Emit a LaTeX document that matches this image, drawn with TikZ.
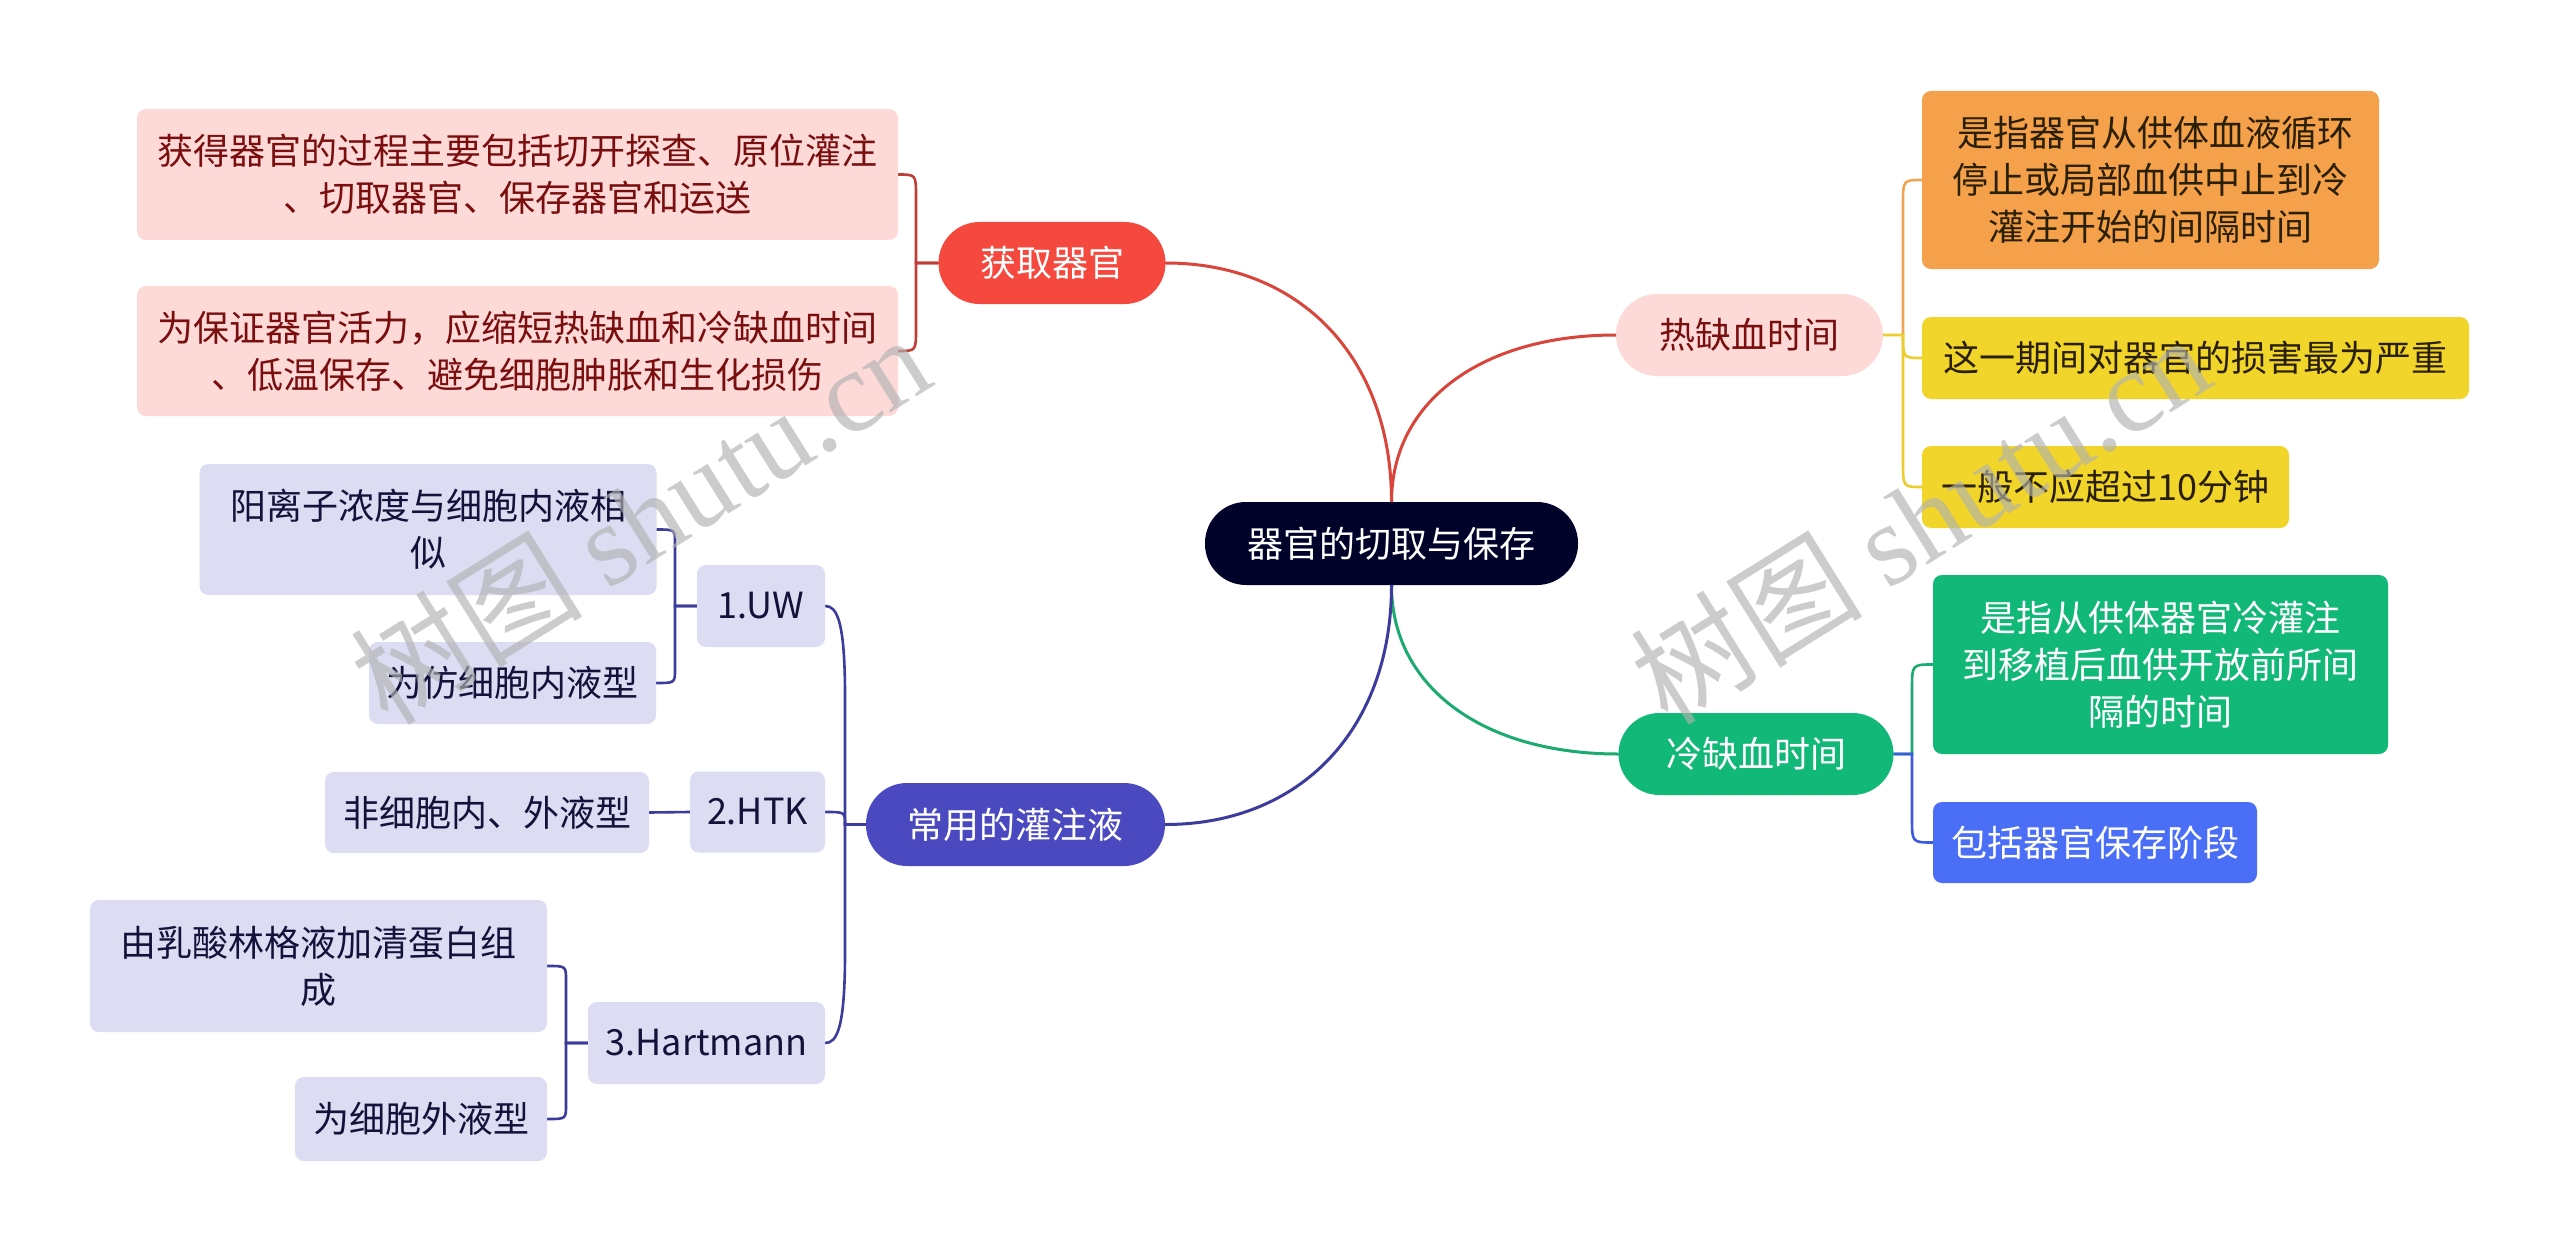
\documentclass[tikz,border=0pt]{standalone}
\usepackage{fontspec}
\setmainfont{Noto Sans CJK SC}
\newfontfamily\wmcjk{Noto Sans CJK SC}
\newfontfamily\wmlat{Liberation Serif}
\usetikzlibrary{calc}
\pgfdeclarelayer{bg}
\pgfsetlayers{bg,main}
\definecolor{rootfill}{HTML}{000229}
\definecolor{redfill}{HTML}{F5483E}
\definecolor{pinkfill}{HTML}{FDDAD8}
\definecolor{pinktext}{HTML}{7A0E0E}
\definecolor{orangefill}{HTML}{F5A04B}
\definecolor{yellowfill}{HTML}{F1D52B}
\definecolor{darktext}{HTML}{2A2000}
\definecolor{greenfill}{HTML}{12B877}
\definecolor{bluefill}{HTML}{4A6EF5}
\definecolor{indigofill}{HTML}{4B49BF}
\definecolor{lavfill}{HTML}{DCDCF2}
\definecolor{lavtext}{HTML}{12123A}
\definecolor{redline}{HTML}{D8453B}
\definecolor{darkredline}{HTML}{BF3E38}
\definecolor{orangeline}{HTML}{F0A555}
\definecolor{yellowline}{HTML}{EBCD30}
\definecolor{greenline}{HTML}{1BAA6F}
\definecolor{blueline}{HTML}{3E5BE0}
\definecolor{indigoline}{HTML}{3C3C9C}
\begin{document}
\begin{tikzpicture}[x=1pt,y=-1pt,
  every node/.style={font=\fontsize{36}{47}\selectfont, inner sep=0pt, align=center},
  box/.style={rounded corners=9pt},
  pill/.style={rounded corners=41pt, minimum height=82pt},
  pinkbox/.style={box, fill=pinkfill, text=pinktext},
  lavbox/.style={box, fill=lavfill, text=lavtext},
  main/.style={line width=3pt, line cap=round},
  sub/.style={line width=2.6pt, line cap=round},
  wm/.style={font=\fontsize{116}{116}\selectfont, text=black!30, opacity=0.65, rotate=32}
]
\useasboundingbox (0,0) rectangle (2560,1252);

% root
\node[pill, fill=rootfill, text=white, minimum width=373pt, minimum height=83pt] (root) at (1391.5,543.5) {器官的切取与保存};

% branch 1
\node[pill, fill=redfill, text=white, minimum width=227pt] (n1) at (1052,263) {获取器官};
\node[pinkbox, minimum width=761pt, minimum height=131pt] (l11) at (517.5,174.5) {获得器官的过程主要包括切开探查、原位灌注\\、切取器官、保存器官和运送};
\node[pinkbox, minimum width=761pt, minimum height=130pt] (l12) at (517.5,351) {为保证器官活力，应缩短热缺血和冷缺血时间\\、低温保存、避免细胞肿胀和生化损伤};

% branch 2
\node[pill, fill=pinkfill, text=pinktext, minimum width=267pt] (n2) at (1749.5,335) {热缺血时间};
\node[box, fill=orangefill, text=darktext, minimum width=457pt, minimum height=178pt] (l21) at (2150.5,180) {\hspace*{9pt}是指器官从供体血液循环\\停止或局部血供中止到冷\\灌注开始的间隔时间};
\node[box, fill=yellowfill, text=darktext, minimum width=547pt, minimum height=82pt] (l22) at (2195.5,358) {这一期间对器官的损害最为严重};
\node[box, fill=yellowfill, text=darktext, minimum width=367pt, minimum height=82pt] (l23) at (2105.5,487) {一般不应超过10分钟};

% branch 3
\node[pill, fill=greenfill, text=white, minimum width=275pt] (n3) at (1756,754) {冷缺血时间};
\node[box, fill=greenfill, text=white, minimum width=455pt, minimum height=179pt] (l31) at (2160.5,664.5) {是指从供体器官冷灌注\\到移植后血供开放前所间\\隔的时间};
\node[box, fill=bluefill, text=white, minimum width=324pt, minimum height=81pt] (l32) at (2095,842.5) {包括器官保存阶段};

% branch 4
\node[pill, fill=indigofill, text=white, minimum width=299pt, minimum height=83pt] (n4) at (1015.5,824.5) {常用的灌注液};
\node[lavbox, minimum width=128pt, minimum height=82pt] (m1) at (761,606) {1.UW};
\node[lavbox, minimum width=457pt, minimum height=131pt] (k11) at (428,529.5) {阳离子浓度与细胞内液相\\似};
\node[lavbox, minimum width=287pt, minimum height=82pt] (k12) at (512.5,683) {为仿细胞内液型};
\node[lavbox, minimum width=135pt, minimum height=81pt] (m2) at (757.5,812) {2.HTK};
\node[lavbox, minimum width=324pt, minimum height=81pt] (k21) at (487,812.5) {非细胞内、外液型};
\node[lavbox, minimum width=237pt, minimum height=82pt] (m3) at (706.5,1043) {3.Hartmann};
\node[lavbox, minimum width=457pt, minimum height=132pt] (k31) at (318.5,966) {由乳酸林格液加清蛋白组\\成};
\node[lavbox, minimum width=252pt, minimum height=84pt] (k32) at (421,1119) {为细胞外液型};

% spine coordinates
\coordinate (s1) at (916,263);
\coordinate (s2) at (1903,335);
\coordinate (s3) at (1912,754);
\coordinate (s4) at (845,824.5);
\coordinate (s5) at (675,606);
\coordinate (s6) at (566,1043);

\begin{pgfonlayer}{bg}
\fill[white] (0,0) rectangle (2560,1252);
% root connectors
\draw[main, redline] (root.north) .. controls ($(root.north)!0.6!(root.north |- n1.east)$) and ($(n1.east)!0.6!(root.north |- n1.east)$) .. (n1.east);
\draw[main, redline] (root.north) .. controls ($(root.north)!0.6!(root.north |- n2.west)$) and ($(n2.west)!0.6!(root.north |- n2.west)$) .. (n2.west);
\draw[main, greenline] (root.south) .. controls ($(root.south)!0.6!(root.south |- n3.west)$) and ($(n3.west)!0.6!(root.south |- n3.west)$) .. (n3.west);
\draw[main, indigoline] (root.south) .. controls ($(root.south)!0.6!(root.south |- n4.east)$) and ($(n4.east)!0.6!(root.south |- n4.east)$) .. (n4.east);

% branch 1 children
\draw[sub, darkredline] (n1.west) -- (s1) -- ($(s1 |- l11.east)+(0,22)$) .. controls (s1 |- l11.east) .. (l11.east);
\draw[sub, darkredline] (n1.west) -- (s1) -- ($(s1 |- l12.east)+(0,-22)$) .. controls (s1 |- l12.east) .. (l12.east);

% branch 2 children
\draw[sub, orangeline] (s2) -- ($(s2 |- l21.west)+(0,25)$) .. controls (s2 |- l21.west) .. (l21.west);
\draw[sub, yellowline] (s2) .. controls (s2 |- l22.west) .. (l22.west);
\draw[sub, yellowline] (n2.east) -- (s2) -- ($(s2 |- l23.west)+(0,-25)$) .. controls (s2 |- l23.west) .. (l23.west);

% branch 3 children
\draw[sub, greenline] (n3.east) -- (s3) -- ($(s3 |- l31.west)+(0,25)$) .. controls (s3 |- l31.west) .. (l31.west);
\draw[sub, blueline] (n3.east) -- (s3) -- ($(s3 |- l32.west)+(0,-25)$) .. controls (s3 |- l32.west) .. (l32.west);

% branch 4 children
\draw[sub, indigoline] (n4.west) -- (s4) -- ($(s4 |- m1.east)+(0,90)$) .. controls ($(s4 |- m1.east)+(0,15)$) and ($(s4 |- m1.east)+(-8,0)$) .. (m1.east);
\draw[sub, indigoline] (s4) .. controls (s4 |- m2.east) .. (m2.east);
\draw[sub, indigoline] (n4.west) -- (s4) -- ($(s4 |- m3.east)+(0,-90)$) .. controls ($(s4 |- m3.east)+(0,-15)$) and ($(s4 |- m3.east)+(-8,0)$) .. (m3.east);

% level 3
\draw[sub, indigoline] (m1.west) -- (s5) -- ($(s5 |- k11.east)+(0,14)$) .. controls (s5 |- k11.east) .. (k11.east);
\draw[sub, indigoline] (m1.west) -- (s5) -- ($(s5 |- k12.east)+(0,-14)$) .. controls (s5 |- k12.east) .. (k12.east);
\draw[sub, indigoline] (m2.west) -- (k21.east);
\draw[sub, indigoline] (m3.west) -- (s6) -- ($(s6 |- k31.east)+(0,14)$) .. controls (s6 |- k31.east) .. (k31.east);
\draw[sub, indigoline] (m3.west) -- (s6) -- ($(s6 |- k32.east)+(0,-14)$) .. controls (s6 |- k32.east) .. (k32.east);
\end{pgfonlayer}

% watermarks
\node[wm] (w1) at (640,518) {{\wmcjk 树图} {\wmlat shutu.cn}};
\node[wm] (w2) at (1920,518) {{\wmcjk 树图} {\wmlat shutu.cn}};
\end{tikzpicture}
\end{document}
